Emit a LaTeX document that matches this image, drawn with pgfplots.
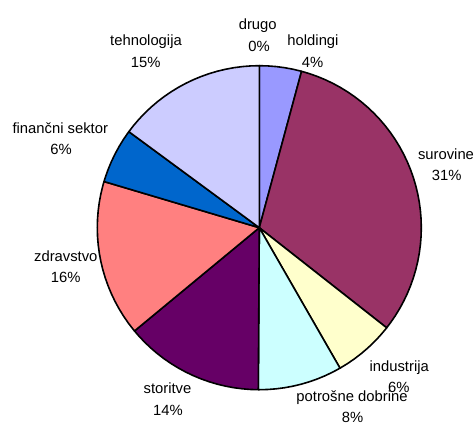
\documentclass[border=0pt]{standalone}
\usepackage{pgfplots}
\pgfplotsset{compat=1.18}
\usepackage{fontspec}
\setmainfont{Liberation Sans}
\definecolor{cHold}{HTML}{9999FF}
\definecolor{cSur}{HTML}{993366}
\definecolor{cInd}{HTML}{FFFFCC}
\definecolor{cPot}{HTML}{CCFFFF}
\definecolor{cSto}{HTML}{660066}
\definecolor{cZdr}{HTML}{FF8080}
\definecolor{cFin}{HTML}{0066CC}
\definecolor{cTeh}{HTML}{CCCCFF}
\definecolor{cDru}{HTML}{000080}
\tikzset{lab/.style={anchor=base, inner sep=0pt, font=\fontsize{14.8}{18}\selectfont}}
\begin{document}
\begin{tikzpicture}
\begin{axis}[name=ax, hide axis, clip=false,
  x=162pt, y=162pt,
  xmin=-1.6006, xmax=1.3315, ymin=-1.2056, ymax=1.4056,
  every axis plot/.append style={data cs=polar, draw=black, line width=1.6pt, line join=round, mark=none}]
% drugo 0%
\addplot[fill=cDru] coordinates {(0,0) (90,1) (0,0)};
% holdingi 4.2%
\addplot[fill=cHold] coordinates {(0,0) (90,1) (87,1) (84,1) (81,1) (78,1) (75,1) (74.88,1) (0,0)};
% surovine 31.4%
\addplot[fill=cSur] coordinates {(0,0) (74.88,1) (72,1) (69,1) (66,1) (63,1) (60,1) (57,1) (54,1) (51,1) (48,1) (45,1) (42,1) (39,1) (36,1) (33,1) (30,1) (27,1) (24,1) (21,1) (18,1) (15,1) (12,1) (9,1) (6,1) (3,1) (0,1) (-3,1) (-6,1) (-9,1) (-12,1) (-15,1) (-18,1) (-21,1) (-24,1) (-27,1) (-30,1) (-33,1) (-36,1) (-38.16,1) (0,0)};
% industrija 6.1%
\addplot[fill=cInd] coordinates {(0,0) (-38.16,1) (-39,1) (-42,1) (-45,1) (-48,1) (-51,1) (-54,1) (-57,1) (-60,1) (-60.12,1) (0,0)};
% potrosne dobrine 8.4%
\addplot[fill=cPot] coordinates {(0,0) (-60.12,1) (-63,1) (-66,1) (-69,1) (-72,1) (-75,1) (-78,1) (-81,1) (-84,1) (-87,1) (-90,1) (-90.36,1) (0,0)};
% storitve 13.9%
\addplot[fill=cSto] coordinates {(0,0) (-90.36,1) (-93,1) (-96,1) (-99,1) (-102,1) (-105,1) (-108,1) (-111,1) (-114,1) (-117,1) (-120,1) (-123,1) (-126,1) (-129,1) (-132,1) (-135,1) (-138,1) (-140.4,1) (0,0)};
% zdravstvo 15.6%
\addplot[fill=cZdr] coordinates {(0,0) (-140.4,1) (-141,1) (-144,1) (-147,1) (-150,1) (-153,1) (-156,1) (-159,1) (-162,1) (-165,1) (-168,1) (-171,1) (-174,1) (-177,1) (-180,1) (-183,1) (-186,1) (-189,1) (-192,1) (-195,1) (-196.56,1) (0,0)};
% financni sektor 5.5%
\addplot[fill=cFin] coordinates {(0,0) (-196.56,1) (-198,1) (-201,1) (-204,1) (-207,1) (-210,1) (-213,1) (-216,1) (-216.36,1) (0,0)};
% tehnologija 14.9%
\addplot[fill=cTeh] coordinates {(0,0) (-216.36,1) (-219,1) (-222,1) (-225,1) (-228,1) (-231,1) (-234,1) (-237,1) (-240,1) (-243,1) (-246,1) (-249,1) (-252,1) (-255,1) (-258,1) (-261,1) (-264,1) (-267,1) (-270,1) (0,0)};
% labels
\node[lab] at (axis cs:-0.0099,1.2204) {drugo};
\node[lab] at (axis cs:-0.0019,1.0846) {0\%};
\node[lab] at (axis cs:0.3315,1.1216) {holdingi};
\node[lab] at (axis cs:0.3284,0.9901) {4\%};
\node[lab] at (axis cs:-0.6994,1.1216) {tehnologija};
\node[lab] at (axis cs:-0.7012,0.9877) {15\%};
\node[lab] at (axis cs:-1.2284,0.5827) {finančni sektor};
\node[lab] at (axis cs:-1.2241,0.4488) {6\%};
\node[lab] at (axis cs:1.1525,0.4222) {surovine};
\node[lab] at (axis cs:1.1568,0.2883) {31\%};
\node[lab] at (axis cs:-1.1944,-0.2099) {zdravstvo};
\node[lab] at (axis cs:-1.1944,-0.3395) {16\%};
\node[lab] at (axis cs:0.8636,-0.8846) {industrija};
\node[lab] at (axis cs:0.8611,-1.0160) {6\%};
\node[lab] at (axis cs:0.5722,-1.0741) {potrošne dobrine};
\node[lab] at (axis cs:0.5753,-1.2037) {8\%};
\node[lab] at (axis cs:-0.5667,-1.0222) {storitve};
\node[lab] at (axis cs:-0.5636,-1.1562) {14\%};
\end{axis}
\pgfresetboundingbox
\useasboundingbox (ax.south west) rectangle (ax.north east);
\end{tikzpicture}
\end{document}
